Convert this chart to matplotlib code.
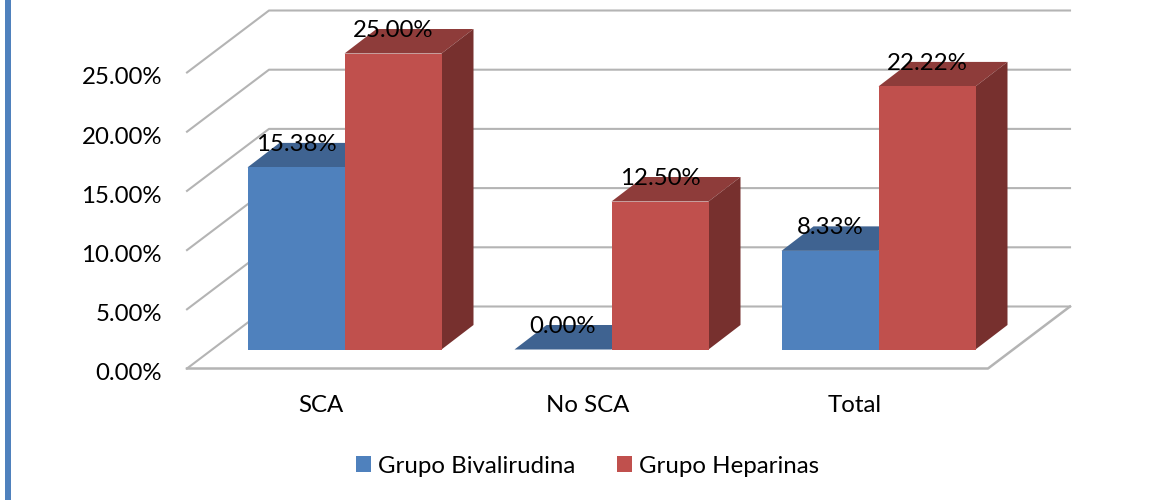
import numpy as np
import matplotlib
matplotlib.use('Agg')
import matplotlib.pyplot as plt
from matplotlib.patches import Rectangle
from matplotlib.transforms import ScaledTranslation

plt.rcParams['font.family'] = ['Lato', 'DejaVu Sans']

categories = ['SCA', 'No SCA', 'Total']
bivalirudina = [15.38, 0.00, 8.33]
heparinas = [25.00, 12.50, 22.22]
series_names = ['Grupo Bivalirudina', 'Grupo Heparinas']
y_ticks = [0, 5, 10, 15, 20, 25]

W, H = 1154, 500
PX_X = 267.0   # pixels per category
PX_Y = 11.84   # pixels per percentage point
FS = 17.3

# oblique projection, in data units
depth_x = 82 / PX_X
depth_y = 62 / PX_Y
bar_w = 97 / PX_X
gap = (1 - 2 * bar_w) / 2
bar_dx = 32 / PX_X
bar_dy = 24.5 / PX_Y
base_dx = 24 / PX_X
base_dy = 19 / PX_Y

fig = plt.figure(figsize=(W / 100, H / 100), dpi=100, facecolor='white')
ax = fig.add_axes([187 / W, 1 - 368.5 / H, 900 / W, 368.5 / H])
ax.set_xlim(0, 900 / PX_X)
ax.set_ylim(0, 368.5 / PX_Y)
for s in ax.spines.values():
    s.set_visible(False)
ax.patch.set_alpha(0)

fig.add_artist(Rectangle((5 / W, 0), 5.5 / W, 1, transform=fig.transFigure,
                         color='#4F81BD', lw=0))

# walls and floor
grid_c = '#B4B4B4'
n = len(categories)
for t in y_ticks:
    ax.plot([0, depth_x, n + depth_x], [t, t + depth_y, t + depth_y],
            color=grid_c, lw=1.5, zorder=1, clip_on=False)
ax.plot([0, n, n + depth_x], [0, 0, depth_y], color=grid_c, lw=1.8,
        zorder=1, clip_on=False)

colors = {
    0: ('#4F81BD', '#3F6391', '#32507A'),
    1: ('#C0504D', '#8E3C3A', '#77302E'),
}

z = 2
for i in range(n):
    for j, vals in enumerate([bivalirudina, heparinas]):
        front, top, side = colors[j]
        v = vals[i]
        x0 = i + gap + j * bar_w + base_dx
        x1 = x0 + bar_w
        y0 = base_dy
        y1 = base_dy + v
        ax.fill([x0, x1, x1 + bar_dx, x0 + bar_dx],
                [y1, y1, y1 + bar_dy, y1 + bar_dy],
                color=top, lw=0, zorder=z, clip_on=False)
        if j == 1:
            ax.fill([x1, x1 + bar_dx, x1 + bar_dx, x1],
                    [y0, y0 + bar_dy, y1 + bar_dy, y1],
                    color=side, lw=0, zorder=z, clip_on=False)
        ax.bar(x0, v, bar_w, bottom=y0, align='edge', color=front, lw=0,
               zorder=z + 0.5, label=series_names[j] if i == 0 else None)
        ax.text(x0 + bar_w / 2, y1 + bar_dy - 1.5 / PX_Y, '%.2f%%' % v,
                ha='center', va='center', fontsize=FS, color='black', zorder=10)

# axis labels
ax.set_yticks(y_ticks)
ax.set_yticklabels(['%.2f%%' % t for t in y_ticks], fontsize=FS)
ax.tick_params(axis='y', length=0, pad=18)
shift = ScaledTranslation(0, -2.5 / 72, fig.dpi_scale_trans)
for lab in ax.get_yticklabels():
    lab.set_transform(lab.get_transform() + shift)
ax.set_xticks(np.arange(n) + 0.5)
ax.set_xticklabels(categories, fontsize=FS)
ax.tick_params(axis='x', length=0, pad=19)

handles, labels = ax.get_legend_handles_labels()
fig.legend(handles, labels, loc='center', bbox_to_anchor=(587.5 / W, 1 - 466 / H),
           ncol=2, frameon=False, fontsize=FS, handlelength=0.63, handleheight=0.63,
           handletextpad=0.29, columnspacing=1.75, borderpad=0)

fig.savefig('out.png', dpi=100)
